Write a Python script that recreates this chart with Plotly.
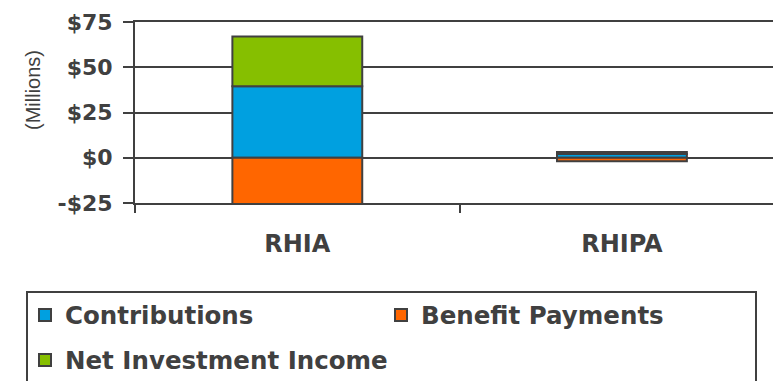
import plotly.graph_objects as go

# ---- data ----
plans = ["RHIA", "RHIPA"]
contributions = [39.5, 2.1]
benefit_payments = [-25.5, -2.0]
net_investment_income = [27.5, 1.1]
y_tick_values = [-25, 0, 25, 50, 75]
y_tick_labels = ["-$25", "$0", "$25", "$50", "$75"]

# ---- layout geometry ----
# The page body has an 8px margin, so the figure starts at page (8, 8).
OFF = 8
W, H = 781 - OFF, 381 - OFF
PLOT_LEFT, PLOT_TOP, PLOT_BOTTOM = 135, 22, 203          # page pixels
ML, MR, MT = PLOT_LEFT - OFF, 0, PLOT_TOP - OFF
MB = H - (PLOT_BOTTOM - OFF)
PW = W - ML - MR
PH = PLOT_BOTTOM - PLOT_TOP

def px_to_paper_x(px):
    return (px - PLOT_LEFT) / PW

def px_to_paper_y(py):
    return (PLOT_BOTTOM - py) / PH

def cx(px):
    return (px - OFF) / W

def cy(py):
    return 1 - (py - OFF) / H

DARK = "#404040"
BOLD = "DejaVu Sans"
colors = {"Contributions": "#00A0E0", "Benefit Payments": "#FF6600",
          "Net Investment Income": "#86BF00"}

fig = go.Figure()
fig.add_trace(go.Bar(x=plans, y=contributions, name="Contributions",
                     marker=dict(color=colors["Contributions"], line=dict(color=DARK, width=2)),
                     width=0.4, legend="legend"))
fig.add_trace(go.Bar(x=plans, y=benefit_payments, name="Benefit Payments",
                     marker=dict(color=colors["Benefit Payments"], line=dict(color=DARK, width=2)),
                     width=0.4, legend="legend2"))
fig.add_trace(go.Bar(x=plans, y=net_investment_income, name="Net Investment Income",
                     marker=dict(color=colors["Net Investment Income"], line=dict(color=DARK, width=2)),
                     width=0.4, legend="legend3"))

legend_common = dict(orientation="h", xref="container", yref="container",
                     font=dict(family=BOLD, size=24.5, color=DARK, weight="bold"),
                     bgcolor="rgba(0,0,0,0)", borderwidth=0,
                     itemclick=False, itemdoubleclick=False,
                     xanchor="left", yanchor="middle")

fig.update_layout(
    width=W, height=H,
    margin=dict(l=ML, r=MR, t=MT, b=MB, autoexpand=False),
    plot_bgcolor="white", paper_bgcolor="white",
    barmode="relative",
    showlegend=True,
    legend=dict(**legend_common, x=cx(25), y=cy(315)),
    legend2=dict(**legend_common, x=cx(381), y=cy(315)),
    legend3=dict(**legend_common, x=cx(25), y=cy(360)),
    xaxis=dict(range=[-0.5, 1.49], showgrid=False,
               showline=True, mirror=True, linecolor=DARK, linewidth=2,
               ticks="outside", tickson="boundaries", ticklen=8, tickwidth=2, tickcolor=DARK,
               tickfont=dict(family=BOLD, size=24, color=DARK, weight="bold"),
               ticklabelstandoff=18, zeroline=False),
    yaxis=dict(range=[-25, 75], tickvals=y_tick_values, ticktext=y_tick_labels,
               showgrid=True, gridcolor=DARK, gridwidth=2,
               zeroline=True, zerolinecolor=DARK, zerolinewidth=2,
               showline=True, linecolor=DARK, linewidth=2,
               ticks="outside", ticklen=10, tickwidth=2, tickcolor=DARK,
               tickfont=dict(family=BOLD, size=22, color=DARK, weight="bold"),
               ticklabelstandoff=6),
    annotations=[dict(text="(Millions)", textangle=-90, xref="paper", yref="paper",
                      x=px_to_paper_x(33), y=px_to_paper_y(90), showarrow=False,
                      xanchor="center", yanchor="middle",
                      font=dict(family="Liberation Sans", size=20, color=DARK))],
    shapes=[dict(type="rect", xref="paper", yref="paper",
                 x0=px_to_paper_x(27), x1=px_to_paper_x(756),
                 y0=px_to_paper_y(292), y1=px_to_paper_y(395),
                 line=dict(color=DARK, width=2), fillcolor="rgba(0,0,0,0)", layer="above")],
)

fig.write_html("out.html")
